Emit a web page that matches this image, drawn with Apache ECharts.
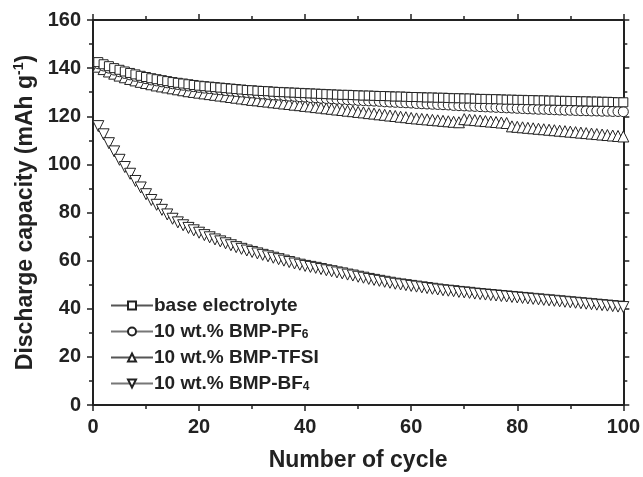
<!DOCTYPE html>
<html>
<head>
<meta charset="utf-8">
<script src="https://cdn.jsdelivr.net/npm/echarts@6/dist/echarts.min.js"></script>
<style>
html,body{margin:0;padding:0;background:#fff;}
#c{width:643px;height:477px;}
</style>
</head>
<body>
<div id="c"></div>
<script>
// cycle numbers 1..100
var cycles = [];
for (var i = 1; i <= 100; i++) cycles.push(i);

var seriesNames = ['base electrolyte', '10 wt.% BMP-PF6', '10 wt.% BMP-TFSI', '10 wt.% BMP-BF4'];

var baseElectrolyte = [
142.5,141.6,140.8,140.0,139.3,138.6,138.0,137.4,136.8,136.3,
135.8,135.4,135.0,134.6,134.2,133.9,133.6,133.3,133.0,132.7,
132.5,132.3,132.1,131.9,131.7,131.5,131.3,131.1,130.9,130.8,
130.6,130.5,130.4,130.2,130.1,130.0,129.9,129.8,129.7,129.6,
129.5,129.4,129.3,129.2,129.1,129.0,128.9,128.9,128.8,128.7,
128.6,128.6,128.5,128.4,128.4,128.3,128.2,128.2,128.1,128.0,
128.0,127.9,127.8,127.8,127.7,127.7,127.6,127.5,127.5,127.4,
127.4,127.3,127.2,127.2,127.1,127.1,127.0,126.9,126.9,126.8,
126.8,126.7,126.7,126.6,126.6,126.5,126.5,126.4,126.4,126.3,
126.3,126.2,126.2,126.1,126.1,126.0,126.0,125.9,125.8,125.8
];

var bmpPF6 = [
141.8,140.9,140.0,139.2,138.5,137.8,137.2,136.6,136.1,135.6,
135.1,134.7,134.3,133.9,133.5,133.2,132.9,132.6,132.3,132.0,
131.7,131.5,131.2,131.0,130.7,130.5,130.3,130.1,129.9,129.7,
129.5,129.3,129.1,128.9,128.8,128.6,128.4,128.3,128.1,128.0,
127.8,127.7,127.5,127.4,127.3,127.1,127.0,126.9,126.7,126.6,
126.5,126.4,126.3,126.2,126.0,125.9,125.8,125.7,125.6,125.5,
125.3,125.2,125.1,125.0,124.9,124.8,124.7,124.5,124.4,124.3,
124.2,124.1,124.0,123.9,123.8,123.7,123.6,123.5,123.4,123.3,
123.2,123.1,123.0,122.9,122.9,122.8,122.7,122.6,122.5,122.5,
122.4,122.3,122.3,122.2,122.2,122.1,122.1,122.0,122.0,121.9
];

var bmpTFSI = [
140.6,139.6,138.6,137.7,136.9,136.2,135.5,134.9,134.3,133.8,
133.3,132.8,132.4,132.0,131.6,131.2,130.8,130.4,130.1,129.8,
129.5,129.2,128.9,128.6,128.3,128.0,127.7,127.4,127.1,126.8,
126.6,126.3,126.1,125.8,125.6,125.3,125.1,124.8,124.6,124.3,
124.1,123.8,123.6,123.3,123.1,122.8,122.6,122.3,122.1,121.8,
121.6,121.3,121.1,120.8,120.6,120.3,120.1,119.8,119.6,119.3,
119.1,118.9,118.7,118.5,118.3,118.1,117.9,117.7,117.5,118.8,
118.6,118.4,118.2,118.0,117.8,117.6,117.4,117.2,115.8,115.6,
115.4,115.2,115.0,114.8,114.6,114.4,114.2,114.0,113.8,113.6,
113.4,113.2,113.0,112.8,112.6,112.4,112.2,112.0,111.8,111.6
];

var bmpBF4 = [
115.9,112.5,108.8,105.4,101.9,98.9,96.1,93.1,90.4,87.6,
85.2,83.2,81.1,79.2,77.4,75.9,74.7,73.6,72.6,71.6,
70.6,69.7,68.8,68.0,67.2,66.4,65.6,64.9,64.2,63.6,
63.0,62.4,61.8,61.2,60.6,60.0,59.4,58.8,58.3,57.8,
57.4,57.0,56.5,56.0,55.6,55.1,54.7,54.2,53.8,53.3,
52.9,52.4,52.0,51.6,51.2,50.8,50.4,50.1,49.8,49.5,
49.2,48.9,48.6,48.3,48.0,47.7,47.5,47.3,47.0,46.8,
46.6,46.3,46.1,45.9,45.7,45.5,45.3,45.1,44.9,44.7,
44.5,44.3,44.1,43.9,43.7,43.5,43.3,43.1,42.9,42.7,
42.5,42.3,42.1,41.9,41.7,41.5,41.3,41.1,40.9,40.7
];

var xTicks = [0, 20, 40, 60, 80, 100];
var yTicks = [0, 20, 40, 60, 80, 100, 120, 140, 160];

function pairs(vals) {
  return vals.map(function (v, i) { return [cycles[i], v]; });
}

var FONT = '"Liberation Sans", Arial, sans-serif';
var INK = '#222';

var chart = echarts.init(document.getElementById('c'), null, {renderer: 'canvas'});

function axisCommon(show) {
  return {
    axisLine: {show: true, onZero: false, lineStyle: {color: INK, width: 2}},
    axisTick: {show: true, inside: false, length: 6, lineStyle: {color: INK, width: 1.5}},
    minorTick: {show: true, splitNumber: 2, length: 4, lineStyle: {color: INK, width: 1.5}},
    splitLine: {show: false},
    axisLabel: {show: show, fontFamily: FONT, fontWeight: 'bold', fontSize: 20, color: INK}
  };
}

var xBottom = Object.assign(axisCommon(true), {
  type: 'value', min: xTicks[0], max: xTicks[xTicks.length - 1], interval: 20, position: 'bottom',
  name: 'Number of cycle', nameLocation: 'middle', nameGap: 44,
  nameTextStyle: {fontFamily: FONT, fontWeight: 'bold', fontSize: 23, color: INK}
});
xBottom.axisLabel.margin = 12;
var xTop = Object.assign(axisCommon(false), {
  type: 'value', min: 0, max: 100, interval: 20, position: 'top'
});
var yLeft = Object.assign(axisCommon(true), {
  type: 'value', min: yTicks[0], max: yTicks[yTicks.length - 1], interval: 20, position: 'left',
  name: '{a|Discharge capacity (mAh g}{sup|-1}{a|)}', nameLocation: 'middle', nameGap: 52, nameRotate: 90,
  nameTextStyle: {
    fontFamily: FONT, fontWeight: 'bold', fontSize: 23, color: INK,
    rich: {
      a: {fontFamily: FONT, fontWeight: 'bold', fontSize: 23, color: INK, lineHeight: 26},
      sup: {fontFamily: FONT, fontWeight: 'bold', fontSize: 14, color: INK, verticalAlign: 'top', lineHeight: 26}
    }
  }
});
yLeft.axisLabel.margin = 12;
var yRight = Object.assign(axisCommon(false), {
  type: 'value', min: 0, max: 160, interval: 20, position: 'right'
});

var symbols = ['rect', 'circle', 'triangle', 'path://M0,0 L10,0 L5,9 Z'];
var sizes = [9, 10, 11, 11];
var lineColors = ['#555', '#777', '#555', '#777'];
var dataSets = [baseElectrolyte, bmpPF6, bmpTFSI, bmpBF4];

var series = dataSets.map(function (vals, k) {
  return {
    name: seriesNames[k],
    type: 'line',
    xAxisIndex: 0, yAxisIndex: 0,
    data: pairs(vals),
    symbol: symbols[k],
    symbolSize: sizes[k],
    showAllSymbol: true,
    lineStyle: {color: lineColors[k], width: 1},
    itemStyle: {color: '#fff', borderColor: INK, borderWidth: 1},
    emphasis: {disabled: true},
    animation: false,
    z: 2 + (3 - k)
  };
});

chart.setOption({
  animation: false,
  backgroundColor: '#fff',
  grid: {left: 93, right: 17, top: 20, bottom: 65, containLabel: false},
  xAxis: [xBottom, xTop],
  yAxis: [yLeft, yRight],
  legend: {
    show: true,
    orient: 'vertical',
    padding: 0,
    left: 110, top: 296,
    itemWidth: 42, itemHeight: 10,
    itemGap: 7,
    data: seriesNames,
    formatter: function (name) {
      if (name === '10 wt.% BMP-PF6') return '{a|10 wt.% BMP-PF}{s|6}';
      if (name === '10 wt.% BMP-BF4') return '{a|10 wt.% BMP-BF}{s|4}';
      return '{a|' + name + '}';
    },
    textStyle: {
      fontFamily: FONT, fontWeight: 'bold', fontSize: 19, color: INK, padding: [0, 0, 0, -4],
      rich: {
        a: {fontFamily: FONT, fontWeight: 'bold', fontSize: 19, color: INK, lineHeight: 19},
        s: {fontFamily: FONT, fontWeight: 'bold', fontSize: 12, color: INK, verticalAlign: 'bottom', lineHeight: 16}
      }
    }
  },
  series: series
});
</script>
</body>
</html>
